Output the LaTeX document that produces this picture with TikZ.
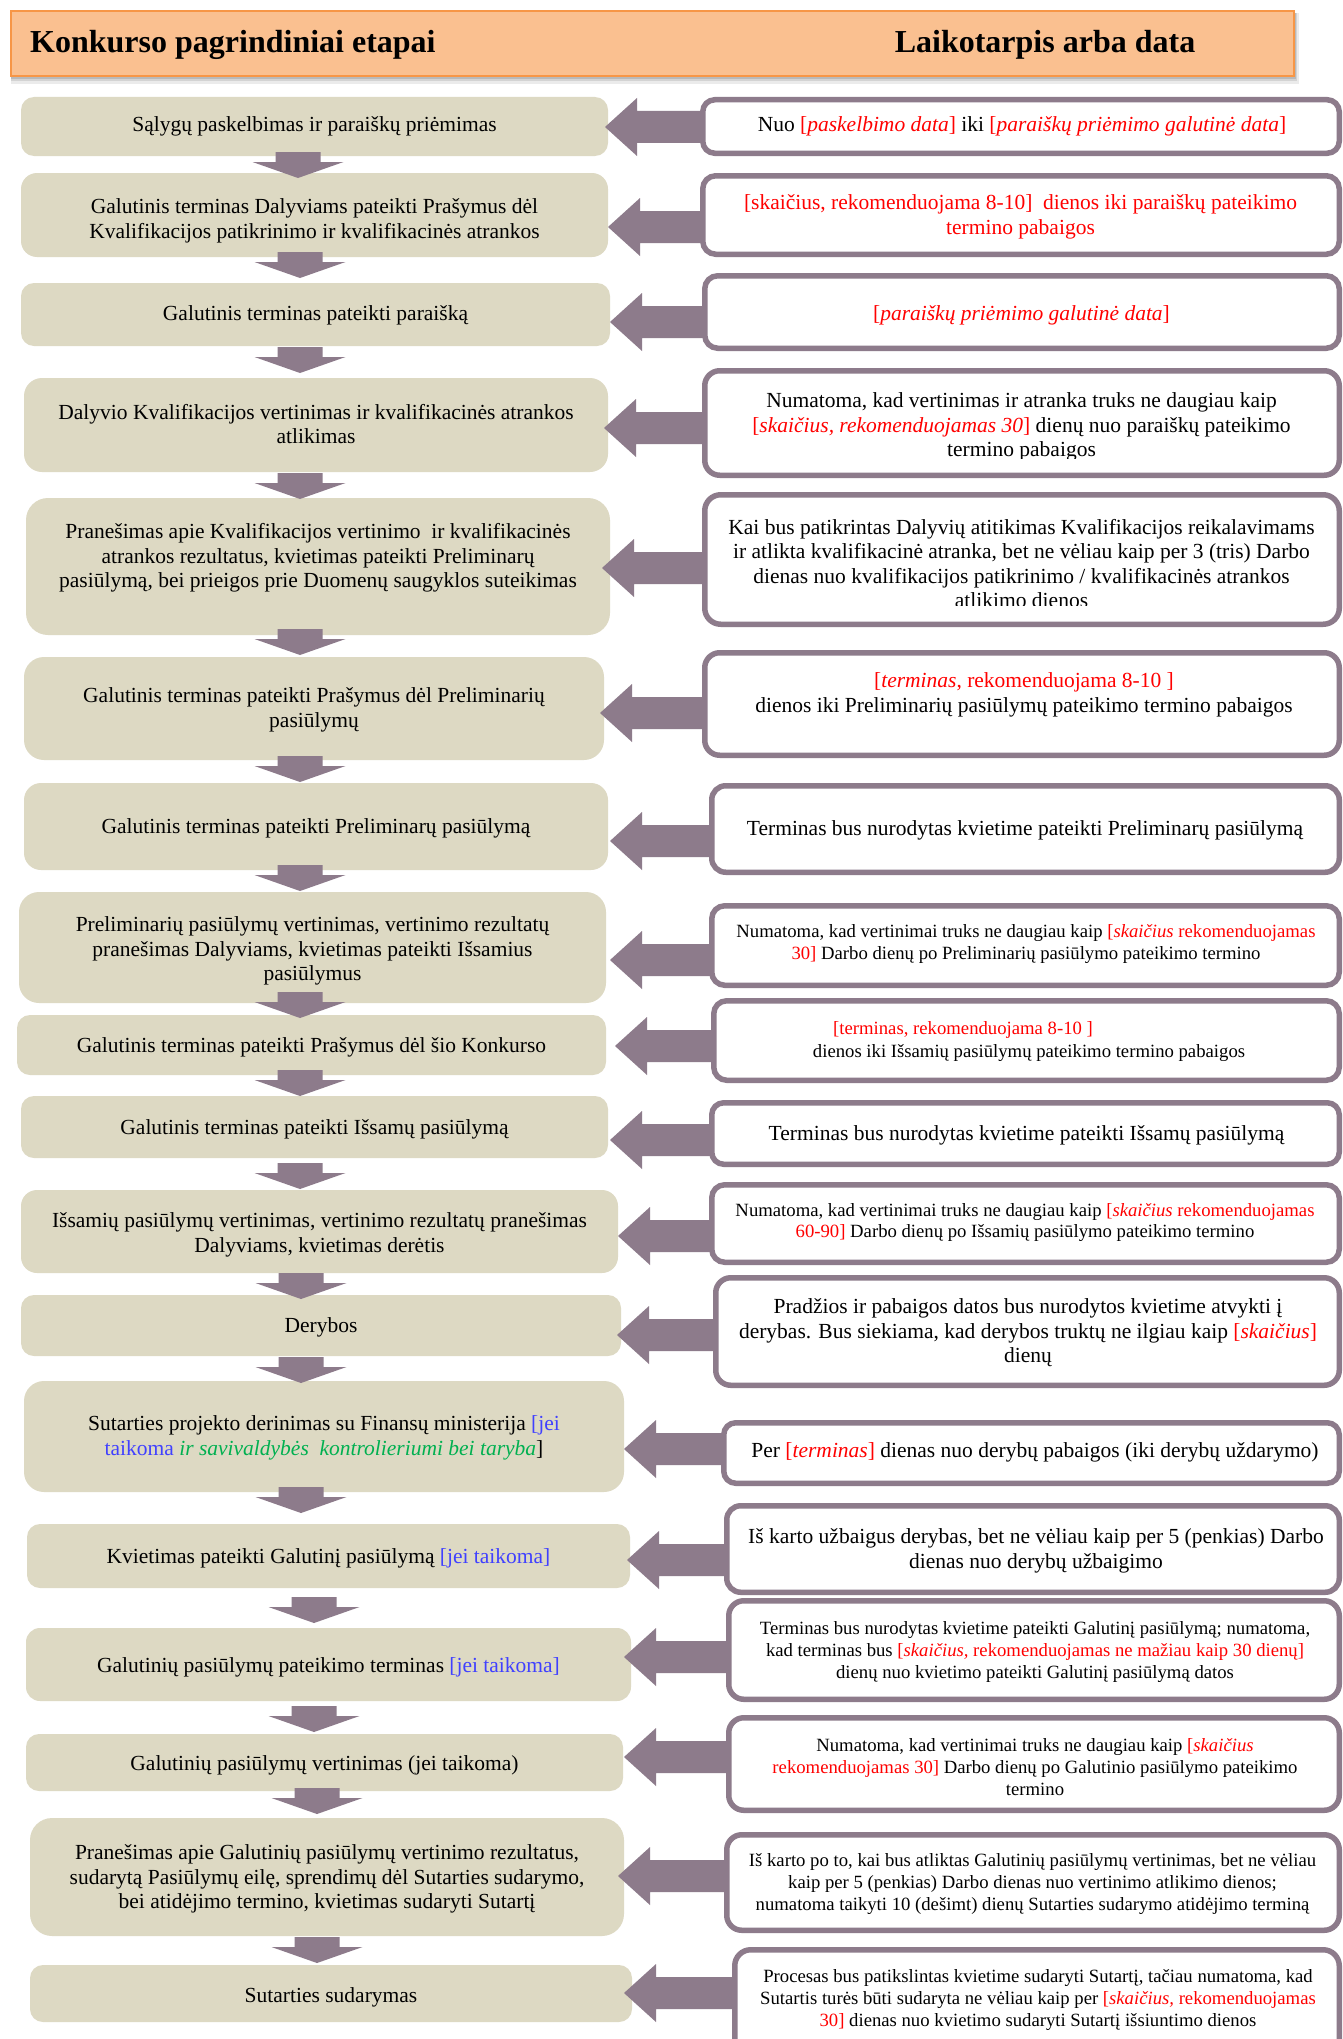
\documentclass[tikz,border=0pt]{standalone}
\usepackage{fontspec}
\setmainfont{Liberation Serif}
\definecolor{leftfill}{HTML}{DDD9C3}
\definecolor{arrcol}{HTML}{8D7B8B}
\definecolor{hdrfill}{HTML}{FAC090}
\definecolor{hdrline}{HTML}{F79646}
\definecolor{myred}{HTML}{FF0000}
\definecolor{myblue}{HTML}{4040FF}
\definecolor{mygreen}{HTML}{00B050}
\newcommand\txtred[1]{\textcolor{myred}{#1}}
\newcommand\txtblue[1]{\textcolor{myblue}{#1}}
\newcommand\txtgreen[1]{\textcolor{mygreen}{#1}}
\tikzset{
  x=1pt,y=-1pt,
  lfill/.style={fill=leftfill},
  rframe/.style={draw=arrcol, line width=5.5pt, fill=white},
  arrowshape/.style={fill=arrcol},
  ntext/.style={align=center, inner sep=0pt, font=\fontsize{21.5}{24.5}\selectfont},
  stext/.style={align=center, inner sep=0pt, font=\fontsize{18.7}{21.7}\selectfont},
  htext/.style={inner sep=0pt, font=\fontsize{32}{36}\selectfont\bfseries},
}
% left box: x1 x2 y1 y2 radius
\newcommand\mylbox[5]{\fill[lfill, rounded corners=#5pt] (#1,#3) rectangle (#2,#4);}
% right box (outer edges): x1 x2 y1 y2 radius
\newcommand\myrbox[5]{\draw[rframe, rounded corners=#5pt] ({#1+2.75},{#3+2.75}) rectangle ({#2-2.75},{#4-2.75});}
% left-pointing block arrow: tip x, centre y, end x
\newcommand\myharr[3]{\fill[arrowshape] (#1,#2) -- ({#1+32},{#2-29}) -- ({#1+32},{#2-16}) -- (#3,{#2-16}) -- (#3,{#2+16}) -- ({#1+32},{#2+16}) -- ({#1+32},{#2+29}) -- cycle;}
% down-pointing block arrow: centre x, top y
\newcommand\myvarr[2]{\fill[arrowshape] ({#1-22.5},#2) -- ({#1+22.5},#2) -- ({#1+22.5},{#2+10}) -- ({#1+45.5},{#2+10}) -- (#1,{#2+26}) -- ({#1-45.5},{#2+10}) -- ({#1-22.5},{#2+10}) -- cycle;}
\begin{document}
\begin{tikzpicture}
\useasboundingbox (0,0) rectangle (1343,2039);
\clip (0,0) rectangle (1343,2039);
\fill[white] (0,0) rectangle (1343,2039);

% header
\fill[black, opacity=0.08] (11,13) rectangle (1299,84);
\fill[black, opacity=0.10] (11,13) rectangle (1297,81);
\fill[black, opacity=0.12] (11,13) rectangle (1296,79);
\draw[fill=hdrfill, draw=hdrline, line width=2pt] (11,11) rectangle (1294,76);
\node[htext, anchor=base west] (H1) at (30,53) {Konkurso pagrindiniai etapai};
\node[htext, anchor=base] (H2) at (1045,53) {Laikotarpis arba data};

% left boxes
\mylbox{21}{608}{97}{156}{13}
\mylbox{21}{608}{173}{257}{16}
\mylbox{21}{610}{283}{346}{13}
\mylbox{24}{608}{378}{472}{18}
\mylbox{26}{610}{498}{635}{22}
\mylbox{24}{604}{657}{760}{20}
\mylbox{24}{608}{783}{870}{17}
\mylbox{19}{606}{892}{1003}{20}
\mylbox{17}{606}{1015}{1075}{13}
\mylbox{21}{608}{1096}{1158}{13}
\mylbox{21}{618}{1190}{1273}{16}
\mylbox{21}{621}{1295}{1356}{13}
\mylbox{24}{624}{1381}{1492}{20}
\mylbox{27}{630}{1524}{1588}{13}
\mylbox{26}{631}{1628}{1701}{14}
\mylbox{26}{623}{1734}{1791}{13}
\mylbox{30}{624}{1818}{1936}{22}
\mylbox{30}{632}{1965}{2022}{13}

% down arrows
\myvarr{298}{152}
\myvarr{300}{252}
\myvarr{300}{347}
\myvarr{300}{473}
\myvarr{300}{629}
\myvarr{300}{756}
\myvarr{300}{865}
\myvarr{300}{992}
\myvarr{300}{1070}
\myvarr{300}{1163}
\myvarr{301}{1273}
\myvarr{301}{1357}
\myvarr{301}{1487}
\myvarr{314}{1597}
\myvarr{314}{1706}
\myvarr{317}{1788}
\myvarr{317}{1937}

% horizontal arrows
\myharr{605}{127}{704}
\myharr{608}{227}{704}
\myharr{610}{322}{706}
\myharr{604}{428}{706}
\myharr{602}{568}{706}
\myharr{600}{713}{706}
\myharr{610}{841}{713}
\myharr{610}{960}{713}
\myharr{615}{1046}{715}
\myharr{610}{1140}{713}
\myharr{618}{1236}{713}
\myharr{617}{1335}{717}
\myharr{624}{1449}{725}
\myharr{627}{1560}{728}
\myharr{624}{1657}{730}
\myharr{624}{1757}{730}
\myharr{618}{1876}{728}
\myharr{624}{1993}{736}

% right boxes
\myrbox{700}{1342}{97}{156}{12}
\myrbox{700}{1342}{173}{257}{13}
\myrbox{702}{1342}{273}{351}{13}
\myrbox{702}{1342}{368}{478}{15}
\myrbox{702}{1342}{492}{627}{16}
\myrbox{702}{1342}{650}{758}{15}
\myrbox{709}{1342}{783}{875}{14}
\myrbox{709}{1342}{903}{988}{13}
\myrbox{711}{1342}{998}{1083}{13}
\myrbox{709}{1342}{1100}{1167}{12}
\myrbox{709}{1342}{1182}{1265}{13}
\myrbox{713}{1342}{1275}{1388}{15}
\myrbox{721}{1342}{1420}{1486}{12}
\myrbox{724}{1342}{1503}{1595}{14}
\myrbox{726}{1342}{1598}{1702}{15}
\myrbox{726}{1342}{1715}{1813}{15}
\myrbox{724}{1342}{1832}{1933}{15}
\myrbox{732}{1342}{1947}{2070}{16}

% left texts
\node[ntext] (L1) at (314.5,126) {Sąlygų paskelbimas ir paraiškų priėmimas};
\node[ntext] (L2) at (314.5,221) {Galutinis terminas Dalyviams pateikti Prašymus dėl\\Kvalifikacijos patikrinimo ir kvalifikacinės atrankos};
\node[ntext] (L3) at (315.5,315) {Galutinis terminas pateikti paraišką};
\node[ntext] (L4) at (316,424) {Dalyvio Kvalifikacijos vertinimas ir kvalifikacinės atrankos\\atlikimas};
\node[ntext] (L5) at (318,558) {Pranešimas apie Kvalifikacijos vertinimo\ \ ir kvalifikacinės\\atrankos rezultatus, kvietimas pateikti Preliminarų\\pasiūlymą, bei prieigos prie Duomenų saugyklos suteikimas};
\node[ntext] (L6) at (314,710) {Galutinis terminas pateikti Prašymus dėl Preliminarių\\pasiūlymų};
\node[ntext] (L7) at (316,828) {Galutinis terminas pateikti Preliminarų pasiūlymą};
\node[ntext] (L8) at (312.5,951) {Preliminarių pasiūlymų vertinimas, vertinimo rezultatų\\pranešimas Dalyviams, kvietimas pateikti Išsamius\\pasiūlymus};
\node[ntext] (L9) at (311.5,1047) {Galutinis terminas pateikti Prašymus dėl šio Konkurso};
\node[ntext] (L10) at (314.5,1129) {Galutinis terminas pateikti Išsamų pasiūlymą};
\node[ntext] (L11) at (319.5,1235) {Išsamių pasiūlymų vertinimas, vertinimo rezultatų pranešimas\\Dalyviams, kvietimas derėtis};
\node[ntext] (L12) at (321,1327) {Derybos};
\node[ntext] (L13) at (324,1438) {Sutarties projekto derinimas su Finansų ministerija \txtblue{[jei}\\\txtblue{taikoma} \txtgreen{\textit{ir savivaldybės\ \ kontrolieriumi bei taryba}}]};
\node[ntext] (L14) at (328.5,1558) {Kvietimas pateikti Galutinį pasiūlymą \txtblue{[jei taikoma]}};
\node[ntext] (L15) at (328.5,1667) {Galutinių pasiūlymų pateikimo terminas \txtblue{[jei taikoma]}};
\node[ntext] (L16) at (324.5,1765) {Galutinių pasiūlymų vertinimas (jei taikoma)};
\node[ntext] (L17) at (327,1879) {Pranešimas apie Galutinių pasiūlymų vertinimo rezultatus,\\sudarytą Pasiūlymų eilę, sprendimų dėl Sutarties sudarymo,\\bei atidėjimo termino, kvietimas sudaryti Sutartį};
\node[ntext] (L18) at (331,1997) {Sutarties sudarymas};

% right texts
\node[ntext] (R1) at (1022,126) {Nuo \txtred{[\textit{paskelbimo data}]} iki \txtred{[\textit{paraiškų priėmimo galutinė data}]}};
\node[ntext, text=myred] (R2) at (1020.5,217) {[skaičius, rekomenduojama 8-10]\ \ dienos iki paraiškų pateikimo\\termino pabaigos};
\node[ntext] (R3) at (1021.5,315) {\txtred{[\textit{paraiškų priėmimo galutinė data}]}};
\begin{scope}
\clip (705,371) rectangle (1339,458);
\node[ntext] (R4) at (1021.5,427) {Numatoma, kad vertinimas ir atranka truks ne daugiau kaip\\\txtred{[\textit{skaičius, rekomenduojamas 30}]} dienų nuo paraiškų pateikimo\\termino pabaigos};
\end{scope}
\begin{scope}
\clip (705,495) rectangle (1339,605);
\node[ntext] (R5) at (1021.5,563.5) {Kai bus patikrintas Dalyvių atitikimas Kvalifikacijos reikalavimams\\ir atlikta kvalifikacinė atranka, bet ne vėliau kaip per 3 (tris) Darbo\\dienas nuo kvalifikacijos patikrinimo / kvalifikacinės atrankos\\atlikimo dienos};
\end{scope}
\node[ntext] (R6) at (1024,695) {\txtred{[\textit{terminas}, rekomenduojama 8-10 ]}\\dienos iki Preliminarių pasiūlymų pateikimo termino pabaigos};
\node[ntext] (R7) at (1025,830) {Terminas bus nurodytas kvietime pateikti Preliminarų pasiūlymą};
\node[stext] (R8) at (1026,944) {Numatoma, kad vertinimai truks ne daugiau kaip \txtred{[\textit{skaičius} rekomenduojamas}\\\txtred{30]} Darbo dienų po Preliminarių pasiūlymo pateikimo termino};
\node[stext, text=myred] (R9a) at (963,1030) {[terminas, rekomenduojama 8-10 ]};
\node[stext] (R9b) at (1029,1053) {dienos iki Išsamių pasiūlymų pateikimo termino pabaigos};
\node[ntext] (R10) at (1026.5,1135) {Terminas bus nurodytas kvietime pateikti Išsamų pasiūlymą};
\node[stext] (R11) at (1025,1222.5) {Numatoma, kad vertinimai truks ne daugiau kaip \txtred{[\textit{skaičius} rekomenduojamas}\\\txtred{60-90]} Darbo dienų po Išsamių pasiūlymo pateikimo termino};
\node[ntext] (R12) at (1028,1333) {Pradžios ir pabaigos datos bus nurodytos kvietime atvykti į\\derybas. Bus siekiama, kad derybos truktų ne ilgiau kaip \txtred{[\textit{skaičius}]}\\dienų};
\node[ntext] (R13) at (1035,1452) {Per \txtred{[\textit{terminas}]} dienas nuo derybų pabaigos (iki derybų uždarymo)};
\node[ntext] (R14) at (1036,1551) {Iš karto užbaigus derybas, bet ne vėliau kaip per 5 (penkias) Darbo\\dienas nuo derybų užbaigimo};
\node[stext] (R15) at (1035,1652) {Terminas bus nurodytas kvietime pateikti Galutinį pasiūlymą; numatoma,\\kad terminas bus \txtred{[\textit{skaičius,} rekomenduojamas ne mažiau kaip 30 dienų]}\\dienų nuo kvietimo pateikti Galutinį pasiūlymą datos};
\node[stext] (R16) at (1035,1767) {Numatoma, kad vertinimai truks ne daugiau kaip \txtred{[\textit{skaičius}}\\\txtred{rekomenduojamas 30]} Darbo dienų po Galutinio pasiūlymo pateikimo\\termino};
\node[stext] (R17) at (1032.5,1884) {Iš karto po to, kai bus atliktas Galutinių pasiūlymų vertinimas, bet ne vėliau\\kaip per 5 (penkias) Darbo dienas nuo vertinimo atlikimo dienos;\\numatoma taikyti 10 (dešimt) dienų Sutarties sudarymo atidėjimo terminą};
\node[stext] (R18) at (1038,2000) {Procesas bus patikslintas kvietime sudaryti Sutartį, tačiau numatoma, kad\\Sutartis turės būti sudaryta ne vėliau kaip per \txtred{[\textit{skaičius,} rekomenduojamas}\\\txtred{30]} dienas nuo kvietimo sudaryti Sutartį išsiuntimo dienos};
\end{tikzpicture}
\end{document}
